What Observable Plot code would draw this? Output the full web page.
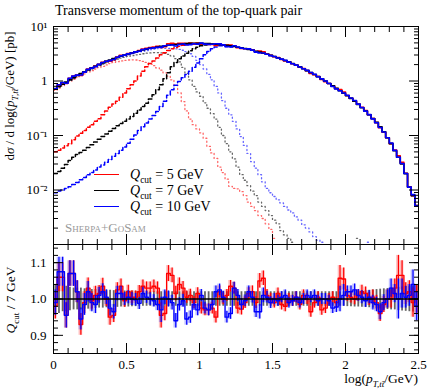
<!DOCTYPE html>
<html><head><meta charset="utf-8">
<script src="https://cdn.jsdelivr.net/npm/d3@7"></script>
<script src="https://cdn.jsdelivr.net/npm/@observablehq/plot@0.6"></script>
<style>
body{margin:0;background:#fff;}
#wrap{position:relative;width:432px;height:390px;overflow:hidden;font-family:"Liberation Serif",serif;color:#000;}
.abs{position:absolute;white-space:nowrap;}
.rot{transform:translate(-50%,-50%) rotate(-90deg);}
svg{position:absolute;left:0;}
</style></head><body><div id="wrap"></div>
<script>
// ---------------- data ----------------
const binWidth = 0.025; // 100 bins from 0 to 2.5 in log10(pT/GeV)
const qcutLabels = ["5 GeV", "7 GeV", "10 GeV"];
const seriesColors = ["#ff0000", "#000000", "#0000ff"];

// total prediction, Qcut = 7 GeV [pb]
const total7 = [0.724,0.794,0.871,0.955,1.047,1.148,1.259,1.365,1.479,1.603,
1.738,1.862,1.995,2.138,2.291,2.427,2.570,2.692,2.851,2.985,
3.126,3.273,3.428,3.548,3.715,3.846,3.981,4.074,4.217,4.315,
4.416,4.519,4.624,4.677,4.732,4.786,4.842,4.898,4.898,4.898,
4.898,4.875,4.842,4.786,4.732,4.677,4.571,4.519,4.416,4.315,
4.169,4.074,3.936,3.802,3.673,3.508,3.388,3.236,3.090,2.951,
2.818,2.661,2.512,2.371,2.239,2.089,1.950,1.820,1.679,1.549,
1.429,1.318,1.202,1.096,1.000,0.902,0.813,0.733,0.661,0.596,
0.537,0.479,0.427,0.372,0.324,0.282,0.240,0.204,0.174,0.145,
0.117,0.0912,0.0708,0.0525,0.0398,0.0302,0.0200,0.0112,0.0079,0.0052];

// ratio Qcut / 7 GeV
const ratio5 = [0.98,1.06,1.06,0.955,1.07,1.07,1.02,0.93,0.99,1.03,
0.995,1.01,1.015,1.035,1.0,0.95,0.955,1.025,1.035,0.995,
1.02,1.005,1.005,1.02,1.035,1.03,1.03,1.035,1.03,0.955,
0.96,1.07,1.065,1.015,1.04,1.03,1.005,1.01,0.99,1.015,
0.975,0.97,0.97,0.975,0.95,1.02,1.0,1.01,1.035,1.03,
0.975,0.972,0.99,1.015,1.02,0.99,1.05,1.057,1.01,1.0,
0.99,1.015,0.985,0.98,1.0,0.995,1.005,0.985,1.01,1.0,
0.965,0.99,1.005,0.97,0.975,1.0,1.005,0.99,1.057,1.055,
1.01,1.005,1.0,1.01,1.02,1.015,1.0,1.005,0.99,0.96,
0.985,1.0,1.0,1.03,1.065,1.065,1.015,1.02,0.99,1.0];
const ratio10 = [0.99,1.075,1.075,0.955,1.07,1.07,1.02,0.945,0.985,1.02,
0.99,0.985,1.01,1.02,1.005,0.975,0.965,1.015,1.015,1.0,
1.005,1.0,0.998,0.988,1.015,1.005,1.0,0.995,0.985,0.97,
1.005,1.0,0.99,0.94,0.985,0.995,0.945,0.95,0.985,0.97,
1.01,0.975,0.97,0.985,1.02,1.025,1.005,0.95,0.96,1.03,
1.01,0.985,0.995,1.02,1.005,0.965,0.965,1.01,1.005,0.99,
1.0,0.995,1.005,1.01,0.99,0.995,1.005,0.99,1.0,1.01,
1.005,1.01,0.995,1.0,1.0,0.995,0.975,0.978,1.0,1.01,
1.02,1.02,1.025,1.01,1.005,0.995,1.005,0.99,0.985,0.965,
0.99,1.0,1.03,1.015,1.0,1.015,1.005,1.01,1.04,0.98];
// statistical uncertainty of the ratios (Qcut = 5, 10 GeV)
const errQ = [0.035,0.04,0.04,0.035,0.035,0.035,0.03,0.03,0.03,0.028,
0.025,0.025,0.022,0.022,0.02,0.022,0.02,0.02,0.02,0.018,
0.018,0.018,0.017,0.017,0.017,0.017,0.017,0.017,0.017,0.035,
0.02,0.022,0.02,0.02,0.018,0.018,0.017,0.017,0.016,0.016,
0.016,0.016,0.016,0.016,0.016,0.016,0.016,0.016,0.016,0.016,
0.016,0.016,0.016,0.016,0.016,0.016,0.02,0.02,0.016,0.016,
0.015,0.015,0.015,0.015,0.015,0.015,0.015,0.015,0.015,0.015,
0.015,0.015,0.015,0.015,0.015,0.015,0.015,0.015,0.035,0.03,
0.016,0.016,0.016,0.016,0.018,0.018,0.018,0.02,0.02,0.022,
0.022,0.025,0.025,0.025,0.055,0.04,0.03,0.03,0.04,0.04];
// statistical uncertainty of the reference (Qcut = 7 GeV)
const errRef = [0.04,0.04,0.035,0.035,0.032,0.03,0.03,0.03,0.028,0.028,
0.026,0.026,0.025,0.025,0.024,0.024,0.023,0.023,0.022,0.022,
0.022,0.021,0.021,0.02,0.02,0.02,0.02,0.02,0.02,0.02,
0.02,0.02,0.02,0.02,0.02,0.02,0.02,0.02,0.02,0.02,
0.02,0.02,0.02,0.02,0.02,0.02,0.02,0.02,0.02,0.02,
0.02,0.02,0.02,0.02,0.02,0.02,0.02,0.02,0.02,0.02,
0.02,0.02,0.02,0.02,0.02,0.02,0.02,0.02,0.02,0.02,
0.02,0.02,0.02,0.02,0.02,0.02,0.02,0.02,0.02,0.02,
0.021,0.021,0.022,0.022,0.023,0.023,0.024,0.025,0.026,0.027,
0.028,0.029,0.03,0.03,0.032,0.033,0.034,0.035,0.036,0.038];

// contribution above Qcut (dashed) [pb]
const above5 = [0.0501,0.0537,0.0589,0.0646,0.0708,0.0832,0.0977,0.110,0.123,0.141,
0.158,0.182,0.204,0.240,0.282,0.331,0.380,0.427,0.501,0.603,
0.724,0.851,1.00,1.23,1.51,1.82,2.09,2.34,2.63,3.02,
3.31,3.63,3.89,4.12,4.32,4.52,4.68,4.75,4.78,4.85,
4.76,4.70];
const above7 = [0.0200,0.0219,0.0251,0.0295,0.0347,0.0398,0.0447,0.0490,0.0537,0.0603,
0.0676,0.0759,0.0851,0.0955,0.107,0.120,0.135,0.151,0.166,0.182,
0.200,0.224,0.257,0.295,0.339,0.389,0.468,0.562,0.692,0.851,
1.10,1.41,1.82,2.19,2.57,2.88,3.24,3.59,3.89,4.17,
4.42,4.57,4.68,4.73,4.70,4.66,4.55];
const above10 = [0.00891,0.00955,0.0100,0.0107,0.0115,0.0126,0.0138,0.0155,0.0170,0.0191,
0.0209,0.0234,0.0263,0.0288,0.0324,0.0363,0.0417,0.0468,0.0537,0.0617,
0.0724,0.0851,0.102,0.123,0.145,0.170,0.200,0.234,0.275,0.339,
0.427,0.550,0.692,0.832,0.977,1.15,1.32,1.51,1.78,2.14,
2.57,3.02,3.47,3.89,4.22,4.42,4.45,4.25,4.20,4.28];

// contribution below Qcut (dotted) [pb]
const below5 = [0.676,0.741,0.813,0.891,0.977,1.07,1.16,1.26,1.35,1.46,
1.55,1.66,1.76,1.86,1.97,2.09,2.19,2.26,2.34,2.40,
2.43,2.45,2.43,2.37,2.29,2.19,2.04,1.91,1.74,1.58,
1.41,1.23,1.05,0.832,0.603,0.417,0.282,0.200,0.158,0.132,
0.112,0.0891,0.0631,0.0479,0.0380,0.0263,0.0209,0.0158,0.0117,0.0107,
0.0105,0.0093,0.0079,0.0060,0.0050,0.0042,0.0034,0.0030,0.0024,0.0019,
0.0013];
const below7 = [0.708,0.776,0.851,0.933,1.02,1.12,1.23,1.33,1.45,1.55,
1.66,1.78,1.91,2.04,2.16,2.29,2.40,2.51,2.63,2.72,
2.82,2.92,3.02,3.09,3.16,3.24,3.27,3.31,3.31,3.27,
3.20,3.09,2.88,2.57,2.24,1.78,1.38,1.05,0.794,0.631,
0.525,0.398,0.316,0.251,0.200,0.141,0.100,0.0708,0.0501,0.0372,
0.0263,0.0191,0.0151,0.0120,0.0095,0.0079,0.0060,0.0050,0.0042,0.0034,
0.0028,0.0024,0.0018,0.0015,0.0013,0.0011,null,null,null,null,
null,null,null,null,null,null,null,null,null,null,
null,null,null,0.0013];
const below10 = [0.708,0.785,0.861,0.944,1.04,1.14,1.24,1.35,1.46,1.58,
1.72,1.84,1.97,2.11,2.24,2.37,2.51,2.63,2.75,2.88,
3.02,3.16,3.27,3.39,3.51,3.63,3.76,3.85,3.94,3.98,
3.98,3.98,3.94,3.89,3.80,3.67,3.47,3.16,2.82,2.40,
2.00,1.66,1.32,1.05,0.794,0.603,0.437,0.316,0.240,0.182,
0.132,0.0955,0.0661,0.0468,0.0331,0.0251,0.0191,0.0141,0.0107,0.0089,
0.0076,0.0066,0.0058,0.0050,0.0043,0.0038,0.0032,0.0028,0.0023,0.0020,
0.0017,0.0014,0.0012,0.0011,null,null,null,null,null,null,
null,null,null,null,null,null,0.0011];

// axis ticks
const xMajor = [0, 0.5, 1, 1.5, 2, 2.5];
const xTickText = ["0", "0.5", "1", "1.5", "2", "2.5"];
const yMainLabelValues = [10, 1, 0.1, 0.01];
const yMainLabelText = ["10\u00b9", "1", "10\u207b\u00b9", "10\u207b\u00b2"];
const yRatioMajor = [0.9, 1.0, 1.1];
const yRatioText = ["0.9", "1.0", "1.1"];

// ---------------- helpers ----------------
function steps(vals) {
  const pts = [];
  vals.forEach((v, i) => {
    const x0 = i * binWidth, x1 = (i + 1) * binWidth;
    if (v == null) { pts.push({x: x0, y: NaN}); return; }
    pts.push({x: x0, y: v}, {x: x1, y: v});
  });
  return pts;
}
function bins(vals, errs) {
  return vals.map((v, i) => ({x0: i * binWidth, x1: (i + 1) * binWidth, xc: (i + 0.5) * binWidth, v, e: errs[i]}));
}
const total5 = total7.map((t, i) => t * ratio5[i]);
const total10 = total7.map((t, i) => t * ratio10[i]);

const xMinor = d3.range(0, 26).map(i => i / 10);
const yMainMajor = [1e-3, 1e-2, 1e-1, 1, 10];
const yMainMinor = [];
for (let e = -3; e <= 0; e++) for (let m = 2; m <= 9; m++) yMainMinor.push(m * Math.pow(10, e));
const yRatioMinor = d3.range(0, 15).map(i => 0.86 + i * 0.02);

function frameTicks(xMaj, xMin, yMaj, yMin, maj, min) {
  const none = () => "";
  const o = {tickFormat: none, label: null, stroke: "#000", strokeWidth: 1};
  return [
    Plot.axisX(xMaj, {...o, anchor: "bottom", tickSize: maj, dy: -maj}),
    Plot.axisX(xMin, {...o, anchor: "bottom", tickSize: min, dy: -min}),
    Plot.axisX(xMaj, {...o, anchor: "top", tickSize: maj, dy: maj}),
    Plot.axisX(xMin, {...o, anchor: "top", tickSize: min, dy: min}),
    Plot.axisY(yMaj, {...o, anchor: "left", tickSize: maj, dx: maj}),
    Plot.axisY(yMin, {...o, anchor: "left", tickSize: min, dx: min}),
    Plot.axisY(yMaj, {...o, anchor: "right", tickSize: maj, dx: -maj}),
    Plot.axisY(yMin, {...o, anchor: "right", tickSize: min, dx: -min})
  ];
}
const svgStyle = {background: "transparent", fontFamily: "'Liberation Serif', serif", fontSize: "13px", overflow: "visible", color: "#000"};

// ---------------- main panel ----------------
const belowSets = [below5, below7, below10];
const aboveSets = [above5, above7, above10];
const totalSets = [total5, total7, total10];

const mainMarks = [];
belowSets.forEach((s, i) => mainMarks.push(Plot.line(steps(s), {x: "x", y: "y", stroke: seriesColors[i], strokeWidth: 1.3, strokeOpacity: 0.6, strokeDasharray: "1.1,2.8", clip: true})));
aboveSets.forEach((s, i) => mainMarks.push(Plot.line(steps(s), {x: "x", y: "y", stroke: seriesColors[i], strokeWidth: 1.5, strokeDasharray: "4,2.5", clip: true})));
totalSets.forEach((s, i) => mainMarks.push(Plot.line(steps(s), {x: "x", y: "y", stroke: seriesColors[i], strokeWidth: 1.6, clip: true})));

const mainChart = Plot.plot({
  width: 432, height: 245,
  marginTop: 26, marginBottom: 1, marginLeft: 53, marginRight: 14,
  style: svgStyle,
  x: {domain: [0, 2.5], label: null},
  y: {type: "log", domain: [1e-3, 10], label: null},
  marks: [
    ...mainMarks,
    Plot.frame({stroke: "#000", strokeWidth: 1}),
    ...frameTicks(xMajor, xMinor, yMainMajor, yMainMinor, 10, 5),
    Plot.axisY(yMainLabelValues, {anchor: "left", tickSize: 0, tickPadding: 6, label: null,
      tickFormat: d => yMainLabelText[yMainLabelValues.indexOf(d)]})
  ]
});

// ---------------- ratio panel ----------------
const b5 = bins(ratio5, errQ), b10 = bins(ratio10, errQ);
const bRef = total7.map((t, i) => ({xc: (i + 0.5) * binWidth, e: errRef[i]}));

const ratioChart = Plot.plot({
  width: 432, height: 147,
  marginTop: 1, marginBottom: 37, marginLeft: 53, marginRight: 14,
  style: svgStyle,
  x: {domain: [0, 2.5], label: null},
  y: {domain: [0.85, 1.15], label: null},
  marks: [
    Plot.ruleX(bRef, {x: "xc", y1: d => 1 - d.e, y2: d => 1 + d.e, stroke: "#333", strokeWidth: 1.8, strokeOpacity: 0.75, clip: true}),
    Plot.rect(b5, {x1: "x0", x2: "x1", y1: d => d.v - d.e, y2: d => d.v + d.e, fill: seriesColors[0], fillOpacity: 0.25, clip: true}),
    Plot.rect(b10, {x1: "x0", x2: "x1", y1: d => d.v - d.e, y2: d => d.v + d.e, fill: seriesColors[2], fillOpacity: 0.25, clip: true}),
    Plot.ruleX(b5, {x: "xc", y1: d => d.v - d.e, y2: d => d.v + d.e, stroke: seriesColors[0], strokeWidth: 1.2, clip: true}),
    Plot.line(steps(ratio5), {x: "x", y: "y", stroke: seriesColors[0], strokeWidth: 1.4, clip: true}),
    Plot.ruleX(b10, {x: "xc", y1: d => d.v - d.e, y2: d => d.v + d.e, stroke: seriesColors[2], strokeWidth: 1.2, clip: true}),
    Plot.line(steps(ratio10), {x: "x", y: "y", stroke: seriesColors[2], strokeWidth: 1.4, clip: true}),
    Plot.ruleY([1], {stroke: "#000", strokeWidth: 1.6}),
    Plot.frame({stroke: "#000", strokeWidth: 1}),
    ...frameTicks(xMajor, xMinor, yRatioMajor, yRatioMinor, 10, 5),
    Plot.axisY(yRatioMajor, {anchor: "left", tickSize: 0, tickPadding: 7, label: null,
      tickFormat: d => yRatioText[yRatioMajor.indexOf(d)]}),
    Plot.axisX(xMajor, {anchor: "bottom", tickSize: 0, tickPadding: 6, label: null,
      tickFormat: d => xTickText[xMajor.indexOf(d)]})
  ]
});

// ---------------- assemble ----------------
const wrap = document.getElementById("wrap");
mainChart.style.top = "0px";
ratioChart.style.top = "243px";
wrap.appendChild(mainChart);
wrap.appendChild(ratioChart);

function addDiv(html, css, cls) {
  const d = document.createElement("div");
  d.className = "abs" + (cls ? " " + cls : "");
  d.innerHTML = html;
  Object.assign(d.style, css);
  wrap.appendChild(d);
  return d;
}
addDiv("Transverse momentum of the top-quark pair", {left: "55px", top: "3px", fontSize: "14px", lineHeight: "16px"});
addDiv('d<i>σ</i> / d log(<i>p</i><sub style="font-size:9px"><i>T,tt̄</i></sub>/GeV) [pb]',
  {left: "11px", top: "96px", fontSize: "13px"}, "rot");
addDiv('<i>Q</i><sub style="font-size:9px">cut</sub> / 7 GeV', {left: "12px", top: "300px", fontSize: "13.5px"}, "rot");
addDiv('log(<i>p</i><sub style="font-size:9px"><i>T,tt̄</i></sub>/GeV)', {right: "14px", top: "371px", fontSize: "13.5px", lineHeight: "15px"});
addDiv("Sherpa+GoSam", {left: "65px", top: "220px", fontSize: "13px", fontVariant: "small-caps", color: "#999", lineHeight: "15px"});
const legendY = [175, 191, 207];
qcutLabels.forEach((lab, i) => {
  addDiv("", {left: "94px", top: (legendY[i] - 1) + "px", width: "25px", height: "0px", borderTop: "1.6px solid " + seriesColors[i]});
  addDiv('<i>Q</i><sub style="font-size:9.5px">cut</sub> = ' + lab, {left: "130px", top: (legendY[i] - 9) + "px", fontSize: "14px", lineHeight: "18px"});
});
</script></body></html>
